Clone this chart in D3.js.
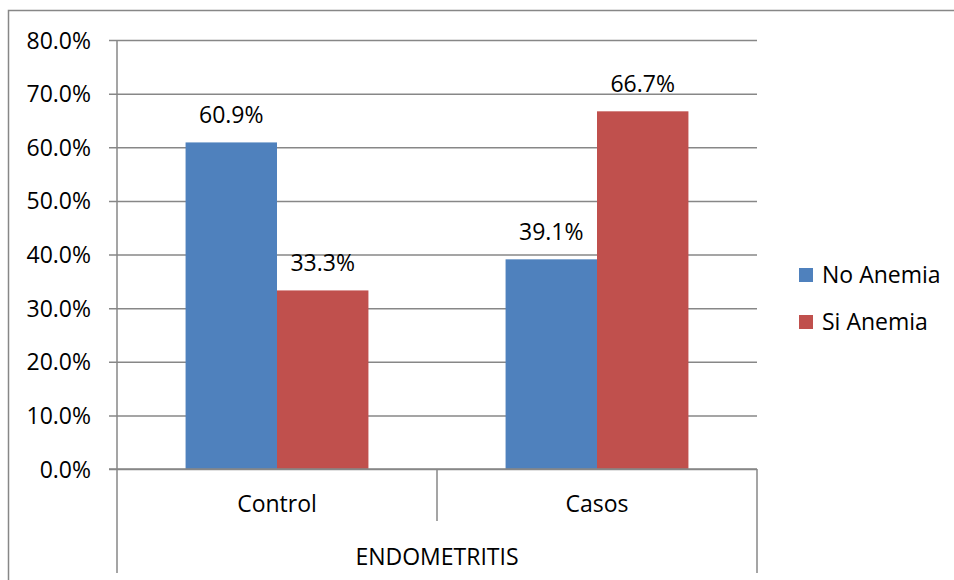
<!DOCTYPE html>
<html>
<head>
<meta charset="utf-8">
<script src="https://cdn.jsdelivr.net/npm/d3@7"></script>
<style>
  html, body { margin: 0; padding: 0; background: #fff; }
  svg { display: block; }
  text { font-family: "Open Sans", "Noto Sans", sans-serif; fill: #000; }
</style>
</head>
<body>
<svg id="chart" width="954" height="580"></svg>
<script>
// Anemia share by endometritis group
const categories = ["Control", "Casos"];
const groupLabel = "ENDOMETRITIS";
const seriesNames = ["No Anemia", "Si Anemia"];
const noAnemia = [60.9, 39.1];
const siAnemia = [33.3, 66.7];
const yTicks = [0, 10, 20, 30, 40, 50, 60, 70, 80];
const colors = ["#4F81BD", "#C0504D"];

const seriesValues = [noAnemia, siAnemia];
const svg = d3.select("#chart");
const gridColor = "#878787";

const plot = { left: 117, right: 757, top: 40, bottom: 469 };

// outer chart frame
svg.append("rect")
  .attr("x", 8.5).attr("y", 10.5)
  .attr("width", 1000).attr("height", 1000)
  .attr("fill", "none").attr("stroke", gridColor).attr("stroke-width", 1.5);

const y = d3.scaleLinear().domain([0, 80]).range([plot.bottom, plot.top]);
const x0 = d3.scaleBand().domain(categories).range([plot.left, plot.right]).paddingInner(0).paddingOuter(0);
const x1 = d3.scaleBand().domain(seriesNames).range([0, x0.bandwidth()]).paddingInner(0).paddingOuter(0.75);

// horizontal gridlines with tick marks on the value axis
const yAxis = d3.axisLeft(y)
  .tickValues(yTicks)
  .tickSize(-(plot.right - plot.left))
  .tickFormat(d => d.toFixed(1) + "%");
const gy = svg.append("g").attr("transform", `translate(${plot.left},0)`).call(yAxis);
gy.select(".domain").remove();
gy.selectAll(".tick line")
  .attr("x1", -8)
  .attr("stroke", gridColor).attr("stroke-width", 1.5);
gy.selectAll(".tick text")
  .attr("x", -26).attr("dy", "0.35em")
  .attr("font-size", 23)
  .style("font-family", '"Open Sans", sans-serif');

// value axis line
svg.append("line")
  .attr("x1", plot.left).attr("x2", plot.left)
  .attr("y1", plot.top).attr("y2", 573)
  .attr("stroke", gridColor).attr("stroke-width", 1.5);

// bars
const groups = svg.append("g").selectAll("g")
  .data(categories)
  .join("g")
  .attr("transform", d => `translate(${x0(d)},0)`);

groups.selectAll("rect")
  .data((c, i) => seriesNames.map((s, j) => ({ s, v: seriesValues[j][i], j })))
  .join("rect")
  .attr("x", d => x1(d.s))
  .attr("y", d => y(d.v))
  .attr("width", x1.bandwidth())
  .attr("height", d => y(0) - y(d.v))
  .attr("fill", d => colors[d.j]);

groups.selectAll("text.val")
  .data((c, i) => seriesNames.map((s, j) => ({ s, v: seriesValues[j][i], j })))
  .join("text")
  .attr("class", "val")
  .attr("x", d => x1(d.s) + x1.bandwidth() / 2)
  .attr("y", d => y(d.v) - 19)
  .attr("text-anchor", "middle")
  .attr("font-size", 23)
  .text(d => d.v.toFixed(1) + "%");

// category axis: baseline, separators, labels
svg.append("line")
  .attr("x1", plot.left - 8).attr("x2", plot.right)
  .attr("y1", plot.bottom).attr("y2", plot.bottom)
  .attr("stroke", gridColor).attr("stroke-width", 1.5);

svg.append("line")
  .attr("x1", x0("Casos")).attr("x2", x0("Casos"))
  .attr("y1", plot.bottom).attr("y2", 521)
  .attr("stroke", gridColor).attr("stroke-width", 1.5);

svg.append("line")
  .attr("x1", plot.right).attr("x2", plot.right)
  .attr("y1", plot.bottom).attr("y2", 573)
  .attr("stroke", gridColor).attr("stroke-width", 1.5);

svg.append("g").selectAll("text")
  .data(categories)
  .join("text")
  .attr("x", d => x0(d) + x0.bandwidth() / 2)
  .attr("y", 512)
  .attr("text-anchor", "middle")
  .attr("font-size", 23)
  .text(d => d);

svg.append("text")
  .attr("x", (plot.left + plot.right) / 2)
  .attr("y", 565)
  .attr("text-anchor", "middle")
  .attr("font-size", 23)
  .text(groupLabel);

// legend
const legend = svg.append("g").selectAll("g")
  .data(seriesNames)
  .join("g")
  .attr("transform", (d, i) => `translate(799,${268 + i * 47})`);
legend.append("rect")
  .attr("width", 14).attr("height", 14)
  .attr("fill", (d, i) => colors[i]);
legend.append("text")
  .attr("x", 23).attr("y", 15)
  .attr("font-size", 23)
  .text(d => d);
</script>
</body>
</html>
